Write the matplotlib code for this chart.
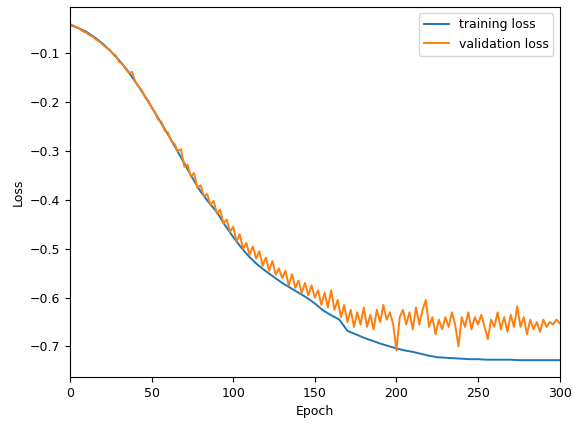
import numpy as np
import matplotlib
matplotlib.use("Agg")
import matplotlib.pyplot as plt

# training loss, read every 5 epochs
train_epochs = list(range(0, 301, 5))
train_loss = [-0.042, -0.048, -0.056, -0.067, -0.080, -0.096, -0.114, -0.134, -0.158, -0.183,
              -0.210, -0.238, -0.266, -0.295, -0.325, -0.355, -0.383, -0.405, -0.425, -0.452,
              -0.476, -0.498, -0.517, -0.533, -0.546, -0.558, -0.570, -0.580, -0.590, -0.600,
              -0.612, -0.626, -0.636, -0.645, -0.668, -0.675, -0.682, -0.688, -0.694, -0.699,
              -0.704, -0.708, -0.711, -0.715, -0.719, -0.722, -0.723, -0.724, -0.725, -0.726,
              -0.726, -0.727, -0.727, -0.727, -0.727, -0.728, -0.728, -0.728, -0.728, -0.728,
              -0.728]

# validation loss, read every 2 epochs
val_epochs = list(range(0, 301, 2))
val_loss = [-0.040, -0.043, -0.047, -0.050, -0.055, -0.058, -0.063, -0.066, -0.072, -0.076,
            -0.082, -0.088, -0.092, -0.100, -0.104, -0.117, -0.122, -0.131, -0.140, -0.138,
            -0.158, -0.168, -0.176, -0.190, -0.197, -0.212, -0.220, -0.236, -0.240, -0.258,
            -0.262, -0.280, -0.285, -0.300, -0.296, -0.332, -0.328, -0.352, -0.345, -0.375,
            -0.370, -0.392, -0.388, -0.410, -0.402, -0.428, -0.420, -0.448, -0.440, -0.465,
            -0.455, -0.485, -0.470, -0.500, -0.488, -0.512, -0.495, -0.520, -0.505, -0.535,
            -0.518, -0.545, -0.525, -0.553, -0.540, -0.560, -0.545, -0.575, -0.552, -0.580,
            -0.565, -0.590, -0.570, -0.595, -0.575, -0.600, -0.585, -0.615, -0.590, -0.620,
            -0.585, -0.625, -0.605, -0.640, -0.615, -0.650, -0.625, -0.660, -0.630, -0.655,
            -0.620, -0.660, -0.635, -0.665, -0.625, -0.650, -0.615, -0.645, -0.630, -0.655,
            -0.708, -0.640, -0.625, -0.655, -0.630, -0.665, -0.620, -0.655, -0.625, -0.605,
            -0.660, -0.640, -0.675, -0.645, -0.665, -0.640, -0.660, -0.630, -0.655, -0.700,
            -0.640, -0.660, -0.630, -0.665, -0.640, -0.655, -0.635, -0.660, -0.685, -0.645,
            -0.660, -0.630, -0.665, -0.640, -0.670, -0.635, -0.660, -0.618, -0.660, -0.640,
            -0.675, -0.645, -0.665, -0.650, -0.670, -0.645, -0.660, -0.650, -0.655, -0.645,
            -0.652]

plt.rcParams['font.size'] = 9

fig, ax = plt.subplots(figsize=(5.74, 4.25), dpi=100)
fig.subplots_adjust(left=0.122, right=0.975, top=0.983, bottom=0.113)

ax.plot(train_epochs, train_loss, color='#1f77b4', linewidth=1.4, label='training loss')
ax.plot(val_epochs, val_loss, color='#ff7f0e', linewidth=1.4, label='validation loss')

ax.set_xlim(0, 300)
ax.set_xlabel('Epoch')
ax.set_ylabel('Loss')
ax.legend(loc='upper right')

fig.savefig('out.png', dpi=100)
